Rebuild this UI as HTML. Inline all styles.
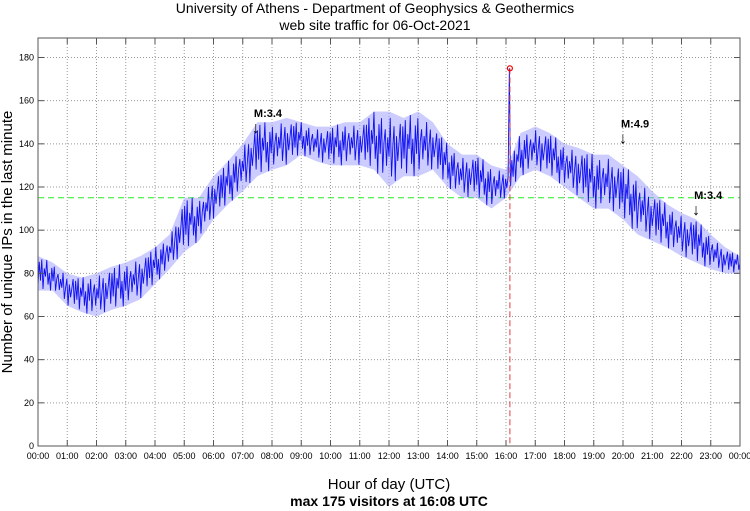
<!DOCTYPE html>
<html><head><meta charset="utf-8"><style>
body{margin:0;background:#fff;}
svg{display:block;font-family:"Liberation Sans",sans-serif;}
</style></head><body>
<svg id="chart" width="750" height="511">
<text x="375" y="13" font-size="14" text-anchor="middle">University of Athens - Department of Geophysics &amp; Geothermics</text>
<text x="375" y="30" font-size="14" text-anchor="middle">web site traffic for 06-Oct-2021</text>
<g id="grid"></g>
<g id="series"></g>
<g id="axes"></g>
<text transform="translate(12,242) rotate(-90)" font-size="15" text-anchor="middle">Number of unique IPs in the last minute</text>
<text x="389" y="489" font-size="15" text-anchor="middle">Hour of day (UTC)</text>
<text x="389" y="506" font-size="14" font-weight="bold" text-anchor="middle">max 175 visitors at 16:08 UTC</text>
</svg>
<script>
const hours=[...Array(25).keys()];
const yTicks=[0,20,40,60,80,100,120,140,160,180];
const loVals=[72,72,65,62,60,63,65,68,75,82,90,95,105,112,118,125,128,130,135,132,130,130,130,128,120,125,125,128,120,115,115,110,115,125,128,125,120,115,110,110,105,98,95,92,88,85,82,80,80];
const hiVals=[88,85,80,78,80,83,85,88,92,98,115,115,125,132,140,150,150,152,150,148,148,150,150,155,155,152,155,150,140,135,135,130,128,145,148,145,140,138,135,135,130,125,118,112,108,105,98,92,88];
const peakTime=[16+8/60];
const peakVal=[175];
const refLine=[115];
const quakeTimes=[7.45,20.0,22.5];
const quakeLabels=["M:3.4","M:4.9","M:3.4"];
const quakeVals=[146,141,108];

const L=38,R=740,T=38,B=446;
const X=h=>L+(R-L)*h/24;
const Y=v=>B-(B-57.5)*v/180;
const NS="http://www.w3.org/2000/svg";
function mk(tag,parent,attrs){const e=document.createElementNS(NS,tag);for(const k in attrs)e.setAttribute(k,attrs[k]);parent.appendChild(e);return e;}
const grid=document.getElementById('grid'),axes=document.getElementById('axes'),series=document.getElementById('series');

hours.forEach(h=>{
  if(h>0&&h<24){const g=mk('line',grid,{x1:X(h),x2:X(h),y1:T,y2:B,stroke:'#999','stroke-dasharray':'1,2'});
  
  
  mk('line',axes,{x1:X(h),x2:X(h),y1:B,y2:B-6,stroke:'#555'});mk('line',axes,{x1:X(h),x2:X(h),y1:T,y2:T+6,stroke:'#555'});}
  const t=mk('text',axes,{x:X(h),y:B+13,'font-size':9,'text-anchor':'middle'});
  t.textContent=String(h%24).padStart(2,'0')+':00';
  
  
});
yTicks.forEach(v=>{
  if(v>0){const g=mk('line',grid,{x1:L,x2:R,y1:Y(v),y2:Y(v),stroke:'#999','stroke-dasharray':'1,2'});
  
  
  mk('line',axes,{x1:L,x2:L+6,y1:Y(v),y2:Y(v),stroke:'#555'});mk('line',axes,{x1:R,x2:R-6,y1:Y(v),y2:Y(v),stroke:'#555'});}
  const t=mk('text',axes,{x:L-4,y:Y(v)+3,'font-size':9,'text-anchor':'end'});
  t.textContent=v;
  
  
});
const frame=mk('rect',axes,{x:L,y:T,width:R-L,height:B-T,fill:'none',stroke:'#555'});



const ref=mk('line',series,{x1:L,x2:R,y1:Y(refLine[0]),y2:Y(refLine[0]),stroke:'#22ee22','stroke-dasharray':'6,4','stroke-width':1});



function interp(arr,h){const p=h*2,i=Math.min(Math.floor(p),arr.length-2),f=p-i;return arr[i]*(1-f)+arr[i+1]*f;}
const pattern=[0.15,0.85,0.3,0.95,0.05,0.7,0.45,1.0,0.2,0.6,0.0,0.8,0.35,0.9,0.1,0.55,0.75,0.25,0.65,0.4,0.92,0.12,0.5,0.82,0.02,0.68,0.3,0.58,0.88];
let bandTop=[],bandBot=[],pts=[];
const N=560;
for(let i=0;i<=N;i++){const h=24*i/N;const lo=interp(loVals,h),hi=interp(hiVals,h);
  bandTop.push(X(h)+','+Y(hi));bandBot.unshift(X(h)+','+Y(lo));
  let v=lo+(hi-lo)*pattern[i%pattern.length];
  if(Math.abs(h-peakTime[0])<0.022)v=peakVal[0];
  pts.push(X(h)+','+Y(v));}
const band=mk('polygon',series,{points:bandTop.concat(bandBot).join(' '),fill:'#9a9aff',opacity:0.5});


const line=mk('polyline',series,{points:pts.join(' '),fill:'none',stroke:'#1010f0','stroke-width':0.9});



const pl=mk('line',series,{x1:X(peakTime[0]),x2:X(peakTime[0]),y1:Y(peakVal[0]),y2:B,stroke:'#e04040','stroke-dasharray':'6,3'});


const pc=mk('circle',series,{cx:X(peakTime[0]),cy:Y(peakVal[0]),r:2.5,fill:'none',stroke:'#e00','stroke-width':1.2});



quakeTimes.forEach((h,i)=>{
  const t=mk('text',series,{x:X(h)-2,y:Y(quakeVals[i])-14,'font-size':11,'font-weight':'bold'});
  t.textContent=quakeLabels[i];
  
  
  const a=mk('text',series,{x:X(h),y:Y(quakeVals[i])+2,'font-size':16,'text-anchor':'middle'});
  a.textContent='↓';
  
  
});
</script>
</body></html>
